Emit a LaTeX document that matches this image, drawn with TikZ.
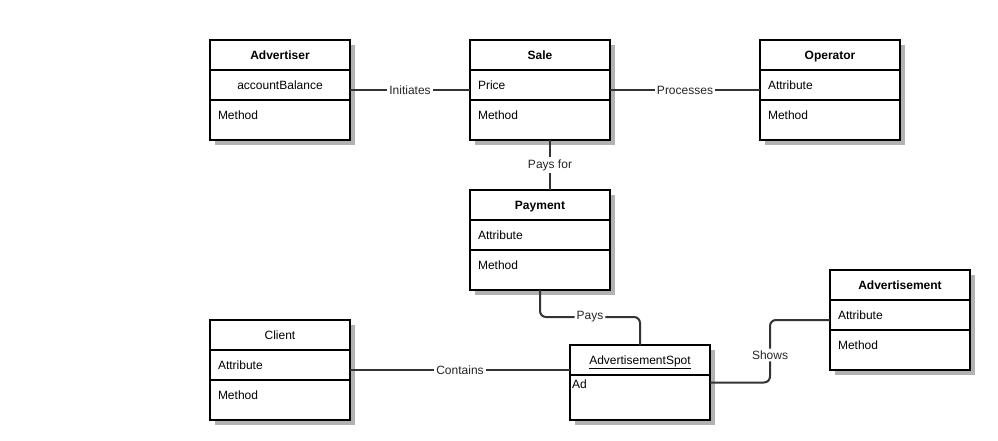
\documentclass[tikz,border=0pt]{standalone}
\usepackage{fontspec}
\setmainfont{Liberation Sans}
\usetikzlibrary{positioning,shadows}

\begin{document}
\begin{tikzpicture}
        [x=1pt,y=-1pt,
        font=\fontsize{12}{14}\selectfont,
        part/.style={draw=black,line width=2pt,fill=white,rectangle,outer sep=0pt,
            inner xsep=8pt,inner ysep=0pt,minimum width=140pt,text width=124pt,
            drop shadow={shadow xshift=5pt,shadow yshift=-5pt,fill=black!30,opacity=1}},
        head/.style={part,align=center,text height=19.5pt,text depth=10.5pt},
        attr/.style={part,align=left,text height=19.5pt,text depth=10.5pt},
        meth/.style={part,align=left,text height=19pt,text depth=21pt},
        conn/.style={draw=black!80,line width=2pt},
        lbl/.style={fill=white,inner sep=2pt,text=black!85}]
        \useasboundingbox (0,0) rectangle (998,440);
        % classes
        \node[head] (advhead) at (280,55) {\textbf{Advertiser}};
        \node[attr,align=center,below=0pt of advhead] (advattr) {accountBalance};
        \node[meth,below=0pt of advattr] (advmeth) {Method};

        \node[head] (salehead) at (540,55) {\textbf{Sale}};
        \node[attr,below=0pt of salehead] (saleattr) {Price};
        \node[meth,below=0pt of saleattr] (salemeth) {Method};

        \node[head] (ophead) at (830,55) {\textbf{Operator}};
        \node[attr,below=0pt of ophead] (opattr) {Attribute};
        \node[meth,below=0pt of opattr] (opmeth) {Method};

        \node[head] (payhead) at (540,205) {\textbf{Payment}};
        \node[attr,below=0pt of payhead] (payattr) {Attribute};
        \node[meth,below=0pt of payattr] (paymeth) {Method};

        \node[head] (clihead) at (280,335) {Client};
        \node[attr,below=0pt of clihead] (cliattr) {Attribute};
        \node[meth,below=0pt of cliattr] (climeth) {Method};

        \node[head] (adthead) at (900,285) {\textbf{Advertisement}};
        \node[attr,below=0pt of adthead] (adtattr) {Attribute};
        \node[meth,below=0pt of adtattr] (adtmeth) {Method};

        \node[head] (spothead) at (640,360) {\underline{AdvertisementSpot}};
        \node[part,align=left,inner xsep=2pt,text width=136pt,text height=13pt,text depth=32pt,
            below=0pt of spothead] (spotbody) {Ad};
        % associations
        \draw[conn] ([yshift=-5pt]advattr.east) -- node[lbl]{Initiates} ([yshift=-5pt]saleattr.west);
        \draw[conn] ([yshift=-5pt]saleattr.east) -- node[lbl]{Processes} ([yshift=-5pt]opattr.west);
        \draw[conn] ([xshift=10pt]salemeth.south) -- node[lbl]{Pays for} ([xshift=10pt]payhead.north);
        \draw[conn,rounded corners=6pt] (paymeth.south) -- ++(0,27) -| node[lbl,pos=0.25]{Pays} (spothead.north);
        \draw[conn] ([yshift=-5pt]cliattr.east) coordinate (c1) -- node[lbl]{Contains} (c1 -| spothead.west);
        \draw[conn,rounded corners=6pt] ([yshift=15pt]spotbody.east) -- ++(60,0) |- node[lbl,pos=0.22]{Shows} ([yshift=-5pt]adtattr.west);
    \end{tikzpicture}
\end{document}
